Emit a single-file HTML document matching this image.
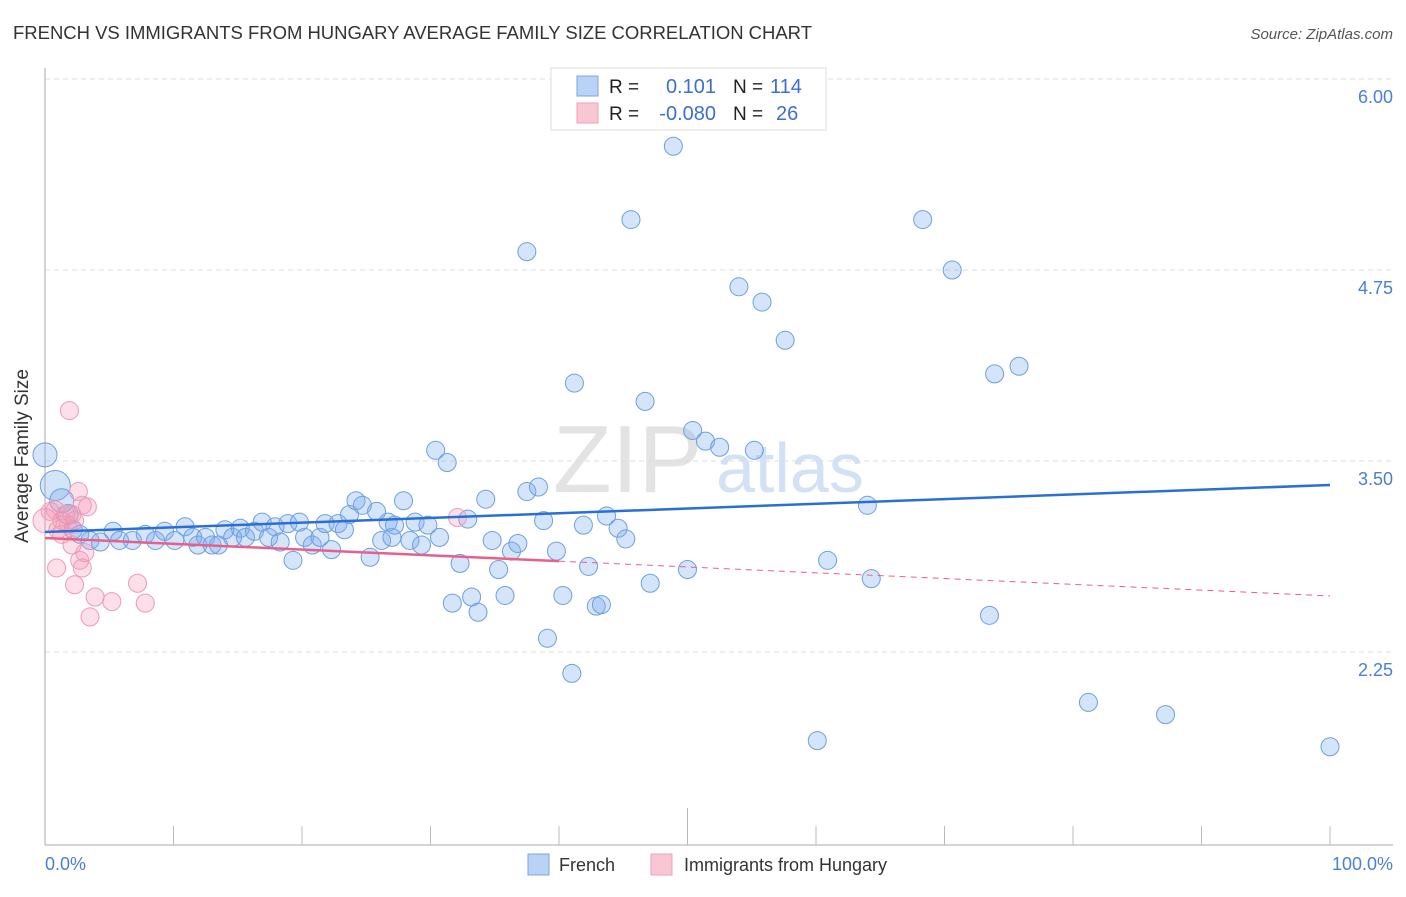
<!DOCTYPE html>
<html><head><meta charset="utf-8"><style>
body{margin:0;background:#fff;}
svg text{font-family:"Liberation Sans",sans-serif;}
</style></head><body>
<svg id="c" width="1406" height="892" viewBox="0 0 1406 892" xmlns="http://www.w3.org/2000/svg">
<text x="13" y="39" font-size="18.5" fill="#333" textLength="799">FRENCH VS IMMIGRANTS FROM HUNGARY AVERAGE FAMILY SIZE CORRELATION CHART</text>
<text x="1393" y="39" font-size="15" fill="#555" font-style="italic" text-anchor="end">Source: ZipAtlas.com</text>
<g>
<text x="553" y="492" font-size="96" font-family="Liberation Serif,serif" fill="#ddd" opacity="0.8">ZIP</text>
<text x="716" y="492" font-size="70" fill="#c8daf3" opacity="0.8">atlas</text>
</g>
<g id="grid"></g>
<g id="axes"></g>
<g id="marks"></g>
<text x="28" y="456" font-size="19" fill="#333" text-anchor="middle" transform="rotate(-90 28 456)">Average Family Size</text>
<text x="45" y="870" font-size="18" fill="#4a7fd6">0.0%</text>
<text x="1393" y="870" font-size="18" fill="#4a7fd6" text-anchor="end">100.0%</text>
<g>
<rect x="551" y="68" width="275" height="62" fill="#fff" stroke="#ddd"/>
<rect x="577" y="76" width="21" height="20" fill="#b8d3f5" stroke="#7aa5e0"/>
<rect x="577" y="103" width="21" height="20" fill="#f9c6d4" stroke="#eea0b8"/>
<text x="609" y="93" font-size="19" fill="#222">R =</text>
<text x="716" y="93" font-size="20" fill="#3a70d0" text-anchor="end">0.101</text>
<text x="733" y="93" font-size="19" fill="#222">N =</text>
<text x="770" y="93" font-size="20" fill="#3a70d0">114</text>
<text x="609" y="120" font-size="19" fill="#222">R =</text>
<text x="716" y="120" font-size="20" fill="#3a70d0" text-anchor="end">-0.080</text>
<text x="733" y="120" font-size="19" fill="#222">N =</text>
<text x="776" y="120" font-size="20" fill="#3a70d0">26</text>
</g>
<g>
<rect x="528" y="854" width="21" height="21" fill="#b8d3f5" stroke="#7aa5e0"/>
<text x="559" y="871" font-size="18" fill="#333">French</text>
<rect x="651" y="854" width="21" height="21" fill="#f9c6d4" stroke="#eea0b8"/>
<text x="684" y="871" font-size="18" fill="#333">Immigrants from Hungary</text>
</g>
</svg>
<script>
const yTicks=[6.00,4.75,3.50,2.25];
const yTickLabels=["6.00","4.75","3.50","2.25"];
const frenchX=[0,0.8,1.3,1.8,2.2,2.7,3.5,4.3,5.3,5.8,6.8,7.8,8.6,9.3,10.1,10.9,11.5,11.9,12.5,13.0,13.5,14.0,14.6,15.2,15.6,16.3,16.9,17.4,17.9,18.3,18.9,19.3,19.8,20.2,20.8,21.4,21.8,22.3,22.8,23.3,23.7,24.2,24.7,25.3,25.8,26.2,26.7,27.0,27.2,27.9,28.4,28.8,29.3,29.8,30.4,30.7,31.3,31.7,32.3,32.9,33.2,33.7,34.3,34.8,35.3,35.8,36.3,36.8,37.5,38.4,38.8,39.1,39.8,40.3,41.0,41.2,41.9,42.3,42.9,43.3,43.7,44.6,45.2,45.6,46.7,47.1,48.9,50.0,50.4,51.4,52.5,54.0,55.2,55.8,57.6,60.1,60.9,64.0,64.3,68.3,70.6,73.5,73.9,75.8,81.2,87.2,100,37.5];
const frenchY=[3.54,3.34,3.24,3.15,3.05,3.02,2.98,2.97,3.04,2.98,2.98,3.02,2.98,3.04,2.98,3.07,3.00,2.95,3.00,2.95,2.95,3.05,3.00,3.06,3.00,3.04,3.10,3.00,3.07,2.97,3.09,2.85,3.10,3.00,2.95,3.00,3.09,2.92,3.09,3.05,3.15,3.24,3.21,2.87,3.17,2.98,3.10,3.00,3.08,3.24,2.98,3.10,2.95,3.08,3.57,3.00,3.49,2.57,2.83,3.12,2.61,2.51,3.25,2.98,2.79,2.62,2.91,2.96,3.30,3.33,3.11,2.34,2.91,2.62,2.11,4.01,3.08,2.81,2.55,2.56,3.14,3.06,2.99,5.08,3.89,2.70,5.56,2.79,3.70,3.63,3.59,4.64,3.57,4.54,4.29,1.67,2.85,3.21,2.73,5.08,4.75,2.49,4.07,4.12,1.92,1.84,1.63,4.87];
const hungX=[0,0.4,0.8,1.0,1.3,1.6,1.9,2.1,2.3,2.6,2.7,2.9,3.3,2.1,0.9,2.3,2.9,3.1,3.9,3.5,5.2,7.2,7.8,32.1,1.3,1.8];
const hungY=[3.11,3.17,3.18,3.05,3.11,3.15,3.83,2.95,3.11,3.30,2.85,3.21,3.20,3.15,2.80,2.69,2.80,2.90,2.61,2.48,2.58,2.70,2.57,3.13,3.02,3.08];
const frenchTrend=[3.035,3.343];
const hungTrend=[2.996,2.617];
const hungSolidEnd=40;

const X=p=>45+p*12.85, Y=v=>79+(6-v)*152.8;
const NS="http://www.w3.org/2000/svg";
function mk(t,a,parent){const e=document.createElementNS(NS,t);for(const k in a)e.setAttribute(k,a[k]);parent.appendChild(e);return e;}
const grid=document.getElementById('grid'),axes=document.getElementById('axes'),marks=document.getElementById('marks'),svg=document.getElementById('c');
yTicks.forEach((v,i)=>{
 const l=mk('line',{x1:45,x2:1393,y1:Y(v),y2:Y(v),stroke:'#ddd','stroke-dasharray':'5,4'},grid);
 
 
 const t=mk('text',{x:1393,y:Y(v)+24,'font-size':18,fill:'#4a7fd6','text-anchor':'end'},svg);
 t.textContent=yTickLabels[i];
 
 
});
mk('line',{x1:45,x2:45,y1:68,y2:845,stroke:'#aaa'},axes);
mk('line',{x1:45,x2:1393,y1:845,y2:845,stroke:'#aaa'},axes);
for(let i=1;i<=10;i++){const tk=mk('line',{x1:X(i*10),x2:X(i*10),y1:i==5?808:826,y2:845,stroke:'#bbb'},axes);
 
 }
const fr=[12,15,12,10];
frenchX.forEach((x,i)=>{const c=mk('circle',{cx:X(x),cy:Y(frenchY[i]),r:fr[i]||9,fill:'rgba(120,170,235,0.32)',stroke:'#6f9fe0','stroke-width':1},marks);
 
 });
hungX.forEach((x,i)=>{const c=mk('circle',{cx:X(x),cy:Y(hungY[i]),r:i==0?12:9,fill:'rgba(245,150,180,0.3)',stroke:'#ee9ab4','stroke-width':1},marks);
 
 });
const ft=mk('line',{x1:X(0),y1:Y(frenchTrend[0]),x2:X(100),y2:Y(frenchTrend[1]),stroke:'#2a6fd6','stroke-width':2.5},marks);


const hv=p=>hungTrend[0]+(hungTrend[1]-hungTrend[0])*p/100;
const hs=mk('line',{x1:X(0),y1:Y(hv(0)),x2:X(hungSolidEnd),y2:Y(hv(hungSolidEnd)),stroke:'#e8608a','stroke-width':2.5},marks);


const hd=mk('line',{x1:X(hungSolidEnd),y1:Y(hv(hungSolidEnd)),x2:X(100),y2:Y(hv(100)),stroke:'#e8608a','stroke-width':1,'stroke-dasharray':'6,5'},marks);


</script>
</body></html>
